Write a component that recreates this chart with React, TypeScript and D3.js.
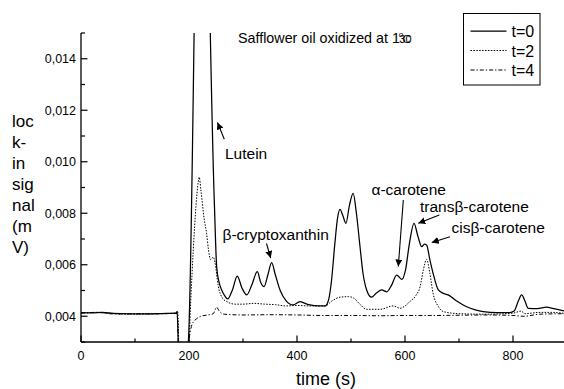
import React, { useRef, useEffect } from 'react';
import * as d3 from 'd3';

// time (s) and lock-in signal (mV) for the three oxidation times
const t0Time = [0, 20, 40, 60, 80, 100, 120, 140, 160, 176, 178, 181, 196, 198.7, 222, 246.8, 251.3, 256, 260.5, 266, 271.6, 280, 289.5, 298, 307, 316, 326.5, 333, 339, 346, 353, 360, 368.5, 380, 393, 405.5, 415, 424, 440, 452, 458, 464, 470, 475, 479.6, 485, 490.7, 497, 504, 510, 516.7, 522, 529, 538, 547, 557, 566, 575, 584.6, 594, 601, 608, 616.7, 624, 631, 636, 640, 646, 652, 661.7, 670, 680, 695, 714, 730, 745, 770, 794, 802, 810, 816, 822, 828, 845, 862, 875, 892, 900];
const t0Signal = [0.00414, 0.00413, 0.00415, 0.00411, 0.0041, 0.00409, 0.00409, 0.0041, 0.00411, 0.00412, 0.00418, 0.0026, 0.0026, 0.003, 0.0284, 0.0085, 0.0059, 0.0053, 0.00502, 0.0048, 0.00467, 0.005, 0.00556, 0.0051, 0.00483, 0.0052, 0.00573, 0.0053, 0.00515, 0.0056, 0.00608, 0.0056, 0.00502, 0.0046, 0.00444, 0.00457, 0.0045, 0.00444, 0.0044, 0.0044, 0.0046, 0.0054, 0.0068, 0.0078, 0.00815, 0.0079, 0.00761, 0.0083, 0.00877, 0.008, 0.0067, 0.0057, 0.00502, 0.00474, 0.0049, 0.00502, 0.00495, 0.0052, 0.0056, 0.00543, 0.0058, 0.0068, 0.00761, 0.0071, 0.0067, 0.0068, 0.00677, 0.0062, 0.00567, 0.00502, 0.0049, 0.00483, 0.0046, 0.00437, 0.00425, 0.00418, 0.00414, 0.00414, 0.0042, 0.0046, 0.00483, 0.0046, 0.00431, 0.0043, 0.00435, 0.0043, 0.00422, 0.0042];

const t2Time = [0, 30, 60, 100, 140, 176, 179, 182, 199, 203, 208, 213, 217, 219, 222, 228, 232.7, 236, 240, 245, 248, 254, 262, 270, 285, 300, 320, 340, 360, 380, 400, 424, 452, 465, 479.6, 495, 504, 515, 529, 554, 578, 591, 600, 609, 620, 628, 634, 640, 646, 652, 662, 671, 700, 750, 800, 815, 822, 850, 870, 900];
const t2Signal = [0.00413, 0.00415, 0.0041, 0.00408, 0.0041, 0.00412, 0.0042, 0.0026, 0.0026, 0.0045, 0.0066, 0.0083, 0.0092, 0.0094, 0.0089, 0.0078, 0.0072, 0.0066, 0.0062, 0.0063, 0.0061, 0.0052, 0.0047, 0.00457, 0.00447, 0.00447, 0.0045, 0.00447, 0.00445, 0.0044, 0.00442, 0.0044, 0.0044, 0.0046, 0.00474, 0.00476, 0.00472, 0.0045, 0.00427, 0.00427, 0.0044, 0.00431, 0.0044, 0.00457, 0.0048, 0.00515, 0.0058, 0.00621, 0.00567, 0.00489, 0.00437, 0.00418, 0.0041, 0.00408, 0.00412, 0.0042, 0.0041, 0.00415, 0.00415, 0.0041];

const t4Time = [0, 30, 60, 100, 140, 176, 178, 181, 197, 200, 206, 214, 222, 235, 245, 251, 256, 265, 300, 350, 400, 450, 500, 550, 600, 650, 700, 750, 800, 820, 850, 900];
const t4Signal = [0.00412, 0.00415, 0.00409, 0.0041, 0.00409, 0.00411, 0.0041, 0.0026, 0.0026, 0.0031, 0.0037, 0.0039, 0.004, 0.00405, 0.0041, 0.00435, 0.0042, 0.00408, 0.00405, 0.00406, 0.00405, 0.00403, 0.00403, 0.00402, 0.00403, 0.00403, 0.00404, 0.00405, 0.00403, 0.004, 0.00408, 0.0041];

const seriesNames = ['t=0', 't=2', 't=4'];
const xTickLabels = [0, 200, 400, 600, 800];
const yTickLabels = [0.004, 0.006, 0.008, 0.010, 0.012, 0.014];
const yLabelLines = ['loc', 'k-', 'in', 'sig', 'nal', '(m', 'V)'];

function App() {
  const svgRef = useRef<SVGSVGElement>(null);

  useEffect(() => {
    const width = 564;
    const height = 389;
    const left = 81;
    const top = 33;
    const bottom = 342;
    const font = 'Liberation Sans, Arial, sans-serif';

    const x = d3.scaleLinear().domain([0, 900]).range([left, 567]);
    const y = d3.scaleLinear().domain([0.003, 0.015]).range([bottom, top]);

    const svg = d3.select(svgRef.current);
    svg.selectAll('*').remove();
    svg.attr('width', width).attr('height', height)
      .style('font-family', font);

    svg.append('rect').attr('width', width).attr('height', height).attr('fill', '#fff');

    svg.append('clipPath').attr('id', 'plot')
      .append('rect')
      .attr('x', left).attr('y', top)
      .attr('width', 567 - left).attr('height', bottom - top);

    const series = [
      { time: t0Time, signal: t0Signal, dash: null, w: 1.25 },
      { time: t2Time, signal: t2Signal, dash: '1.5,1.4', w: 1 },
      { time: t4Time, signal: t4Signal, dash: '4,2,1.3,2', w: 1 },
    ];

    const line = d3.line<[number, number]>()
      .x(d => x(d[0]))
      .y(d => y(d[1]))
      .curve(d3.curveMonotoneX);

    const g = svg.append('g').attr('clip-path', 'url(#plot)');
    series.slice().reverse().forEach(s => {
      const pts = s.time.map((t, i) => [t, s.signal[i]] as [number, number]);
      g.append('path')
        .attr('fill', 'none')
        .attr('stroke', '#000')
        .attr('stroke-width', s.w)
        .attr('stroke-dasharray', s.dash)
        .attr('d', line(pts));
    });

    // bottom axis, ticks inward
    const xAxis = svg.append('g').attr('transform', `translate(0,${bottom})`);
    xAxis.append('line').attr('x1', left).attr('x2', width).attr('stroke', '#000').attr('stroke-width', 1.3);
    d3.range(0, 901, 100).forEach(v => {
      const major = v % 200 === 0;
      xAxis.append('line')
        .attr('x1', x(v)).attr('x2', x(v))
        .attr('y1', 0).attr('y2', major ? -6.5 : -3.5)
        .attr('stroke', '#000').attr('stroke-width', 1.2);
    });
    xAxis.selectAll('text.xl').data(xTickLabels).join('text')
      .attr('x', d => x(d)).attr('y', 17.5)
      .attr('text-anchor', 'middle')
      .attr('font-size', 12.5)
      .text(d => String(d));

    // left axis, ticks inward
    const yAxis = svg.append('g').attr('transform', `translate(${left},0)`);
    yAxis.append('line').attr('y1', top).attr('y2', bottom).attr('stroke', '#000').attr('stroke-width', 1.3);
    d3.range(3, 16).forEach(k => {
      const v = k / 1000;
      const major = k % 2 === 0;
      yAxis.append('line')
        .attr('x1', 0).attr('x2', major ? 6.5 : 4)
        .attr('y1', y(v)).attr('y2', y(v))
        .attr('stroke', '#000').attr('stroke-width', 1.2);
    });
    yAxis.selectAll('text.yl').data(yTickLabels).join('text')
      .attr('x', -5).attr('y', d => y(d) + 4.5)
      .attr('text-anchor', 'end')
      .attr('font-size', 12.5)
      .text(d => d3.format('.3f')(d).replace('.', ','));

    svg.append('text')
      .attr('x', 326).attr('y', 385)
      .attr('text-anchor', 'middle')
      .attr('font-size', 18)
      .text('time (s)');

    svg.append('g').selectAll('text').data(yLabelLines).join('text')
      .attr('x', 12).attr('y', (d, i) => 127 + i * 21)
      .attr('font-size', 17)
      .text(d => d);

    // title, the degree sign and C sit on top of the "30" as in the scan
    const title = svg.append('text').attr('x', 238).attr('y', 42.5).attr('font-size', 14.3);
    title.append('tspan').text('Safflower oil oxidized at 1');
    title.append('tspan').attr('dx', -1).attr('dy', -6).attr('font-size', 8).text('o');
    title.append('tspan').attr('dx', -4).attr('dy', 6).attr('font-size', 11).text('30');
    title.append('tspan').attr('dx', -9).attr('font-size', 11).text('C');

    // legend
    const legend = svg.append('g');
    legend.append('rect')
      .attr('x', 463.5).attr('y', 13.5).attr('width', 76.5).attr('height', 71.5)
      .attr('fill', '#fff').attr('stroke', '#000').attr('stroke-width', 1);
    seriesNames.forEach((name, i) => {
      const ly = 31 + i * 19.5;
      legend.append('line')
        .attr('x1', 470.5).attr('x2', 506.5).attr('y1', ly).attr('y2', ly)
        .attr('stroke', '#000').attr('stroke-width', series[i].w)
        .attr('stroke-dasharray', series[i].dash);
      legend.append('text')
        .attr('x', 511.5).attr('y', ly + 6)
        .attr('font-size', 16)
        .text(name);
    });

    // peak annotations
    svg.append('defs').append('marker')
      .attr('id', 'head').attr('viewBox', '0 0 10 10')
      .attr('refX', 10).attr('refY', 5)
      .attr('markerWidth', 7).attr('markerHeight', 7)
      .attr('markerUnits', 'userSpaceOnUse')
      .attr('orient', 'auto')
      .append('path').attr('d', 'M0,0L10,5L0,10Z').attr('fill', '#000');

    const notes = [
      { label: 'Lutein', tx: 225, ty: 158.5, a: [224.3, 139.3, 217.5, 122.5] },
      { label: 'β-cryptoxanthin', tx: 222.5, ty: 240, a: [266.5, 243.5, 270.7, 258] },
      { label: 'α-carotene', tx: 371.5, ty: 195, a: [403.3, 200, 398.3, 266.5] },
      { label: 'transβ-carotene', tx: 420, ty: 212, a: [439.3, 215, 418.3, 223.3] },
      { label: 'cisβ-carotene', tx: 451.5, ty: 233, a: [450, 236.7, 431.7, 242.5] },
    ];
    notes.forEach(n => {
      svg.append('text').attr('x', n.tx).attr('y', n.ty).attr('font-size', 15.5).text(n.label);
      svg.append('line')
        .attr('x1', n.a[0]).attr('y1', n.a[1]).attr('x2', n.a[2]).attr('y2', n.a[3])
        .attr('stroke', '#000').attr('stroke-width', 1.1)
        .attr('marker-end', 'url(#head)');
    });
  }, []);

  return (
    <div style={{ position: 'absolute', left: 0, top: 0 }}>
      <svg ref={svgRef}></svg>
    </div>
  );
}

export default App;
